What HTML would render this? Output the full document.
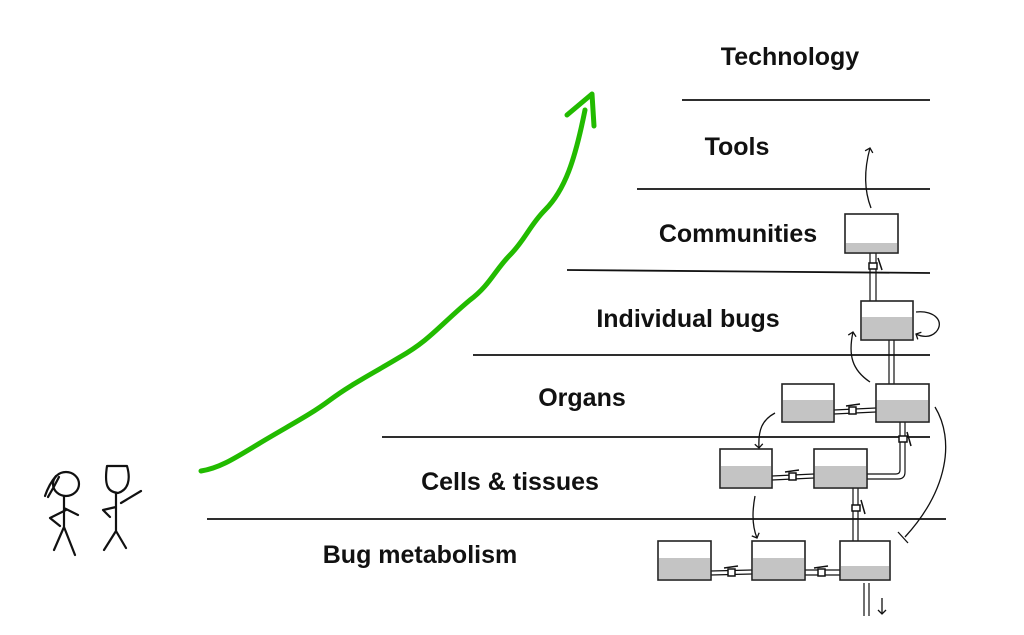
<!DOCTYPE html>
<html><head><meta charset="utf-8"><style>
html,body{margin:0;padding:0;background:#fff;width:1024px;height:635px;overflow:hidden}
text{font-family:"Liberation Sans",sans-serif;font-weight:bold;font-size:25px;fill:#111}
</style></head><body>
<svg width="1024" height="635" viewBox="0 0 1024 635" xmlns="http://www.w3.org/2000/svg">
<defs>
<marker id="ah" markerWidth="10" markerHeight="10" refX="5" refY="5" orient="auto" markerUnits="userSpaceOnUse">
<path d="M1,1 L5,5 L1,9" fill="none" stroke="#111" stroke-width="1.3"/></marker>
</defs>
<g stroke="#111" stroke-width="1.8">
<line x1="682" y1="100" x2="930" y2="100"/>
<line x1="637" y1="189" x2="930" y2="189"/>
<line x1="567" y1="270" x2="930" y2="273"/>
<line x1="473" y1="355" x2="930" y2="355"/>
<line x1="382" y1="437" x2="930" y2="437"/>
<line x1="207" y1="519" x2="946" y2="519"/>
</g>
<text x="790" y="65" text-anchor="middle">Technology</text>
<text x="737" y="155" text-anchor="middle">Tools</text>
<text x="738" y="242" text-anchor="middle">Communities</text>
<text x="688" y="327" text-anchor="middle">Individual bugs</text>
<text x="582" y="406" text-anchor="middle">Organs</text>
<text x="510" y="490" text-anchor="middle">Cells &amp; tissues</text>
<text x="420" y="563" text-anchor="middle">Bug metabolism</text>
<g fill="none" stroke="#22bb00" stroke-width="5" stroke-linecap="round" stroke-linejoin="round">
<path d="M201,471 C220,468 235,458 260,443 C290,425 310,415 330,400 C350,385 370,375 400,357 C430,340 440,325 470,300 C490,285 495,270 510,255 C525,240 530,225 545,210 C565,190 575,160 585,110"/>
<path d="M567,115 L592,94 L594,126"/>
</g>
<g stroke="#111" stroke-width="1.2" fill="none">
<line x1="870" y1="253" x2="870" y2="301"/><line x1="876" y1="253" x2="876" y2="301"/>
<line x1="889" y1="340" x2="889" y2="384"/><line x1="894" y1="340" x2="894" y2="384"/>
<line x1="834" y1="410" x2="876" y2="408"/><line x1="834" y1="414" x2="876" y2="412"/>
<path d="M900,422 L900,470 Q900,474 896,474 L867,474"/><path d="M905,422 L905,472 Q905,479 898,479 L867,479"/>
<line x1="772" y1="476" x2="814" y2="474"/><line x1="772" y1="480" x2="814" y2="478"/>
<line x1="853" y1="488" x2="853" y2="541"/><line x1="858" y1="488" x2="858" y2="541"/>
<line x1="711" y1="571" x2="752" y2="570"/><line x1="711" y1="575" x2="752" y2="574"/>
<line x1="805" y1="570" x2="840" y2="570"/><line x1="805" y1="575" x2="840" y2="575"/>
<line x1="864" y1="583" x2="864" y2="616"/><line x1="869" y1="583" x2="869" y2="616"/>
</g>
<g stroke="#111" stroke-width="1.5" fill="#fff">
<rect x="869" y="263" width="8" height="6"/><path d="M878,258 L882,270" fill="none"/>
<rect x="849" y="407" width="7" height="7"/><path d="M846,406 L860,404" fill="none"/>
<rect x="899" y="436" width="8" height="6"/><path d="M907,432 L911,446" fill="none"/>
<rect x="789" y="473" width="7" height="7"/><path d="M785,472 L799,470" fill="none"/>
<rect x="852" y="505" width="8" height="6"/><path d="M861,500 L865,514" fill="none"/>
<rect x="728" y="569" width="7" height="7"/><path d="M724,568 L738,566" fill="none"/>
<rect x="818" y="569" width="7" height="7"/><path d="M814,568 L828,566" fill="none"/>
</g>
<g stroke="#222" stroke-width="1.6">
<g><rect x="845" y="214" width="53" height="39" fill="#fff"/><rect x="846" y="243" width="51" height="9" fill="#c4c4c4" stroke="none"/></g>
<g><rect x="861" y="301" width="52" height="39" fill="#fff"/><rect x="862" y="317" width="50" height="22" fill="#c4c4c4" stroke="none"/></g>
<g><rect x="782" y="384" width="52" height="38" fill="#fff"/><rect x="783" y="400" width="50" height="21" fill="#c4c4c4" stroke="none"/></g>
<g><rect x="876" y="384" width="53" height="38" fill="#fff"/><rect x="877" y="400" width="51" height="21" fill="#c4c4c4" stroke="none"/></g>
<g><rect x="720" y="449" width="52" height="39" fill="#fff"/><rect x="721" y="466" width="50" height="21" fill="#c4c4c4" stroke="none"/></g>
<g><rect x="814" y="449" width="53" height="39" fill="#fff"/><rect x="815" y="466" width="51" height="21" fill="#c4c4c4" stroke="none"/></g>
<g><rect x="658" y="541" width="53" height="39" fill="#fff"/><rect x="659" y="558" width="51" height="21" fill="#c4c4c4" stroke="none"/></g>
<g><rect x="752" y="541" width="53" height="39" fill="#fff"/><rect x="753" y="558" width="51" height="21" fill="#c4c4c4" stroke="none"/></g>
<g><rect x="840" y="541" width="50" height="39" fill="#fff"/><rect x="841" y="566" width="48" height="13" fill="#c4c4c4" stroke="none"/></g>
</g>
<g stroke="#111" stroke-width="1.3" fill="none">
<path d="M871,208 C864,190 864,170 870,148" marker-end="url(#ah)"/>
<path d="M916,312 C935,310 945,322 936,332 C930,338 922,337 916,334" marker-end="url(#ah)"/>
<path d="M870,382 C852,370 848,355 853,332" marker-end="url(#ah)"/>
<path d="M775,413 C762,420 758,430 759,448" marker-end="url(#ah)"/>
<path d="M935,407 C955,440 948,490 905,537"/>
<path d="M898,532 L908,543"/>
<path d="M755,496 C752,512 752,526 757,538" marker-end="url(#ah)"/>
<path d="M882,598 L882,614" marker-end="url(#ah)"/>
</g>
<g stroke="#111" stroke-width="2.2" fill="none" stroke-linecap="round" stroke-linejoin="round">
<ellipse cx="66" cy="484" rx="13" ry="12"/>
<path d="M56,476 C50,483 47,490 45,496 M59,477 C55,485 51,492 48,497"/>
<path d="M64,497 L64,527 M66,510 L50,518 L60,526 M64,508 L78,515 M64,527 L54,550 M64,527 L75,555"/>
<path d="M108,466 L127,466 C131,480 128,490 118,493 C108,492 104,486 107,466 Z"/>
<path d="M116,493 L116,531 M121,503 L141,491 M116,507 L103,510 L110,517 M116,531 L104,550 M116,531 L126,548"/>
</g>
</svg>
</body></html>
